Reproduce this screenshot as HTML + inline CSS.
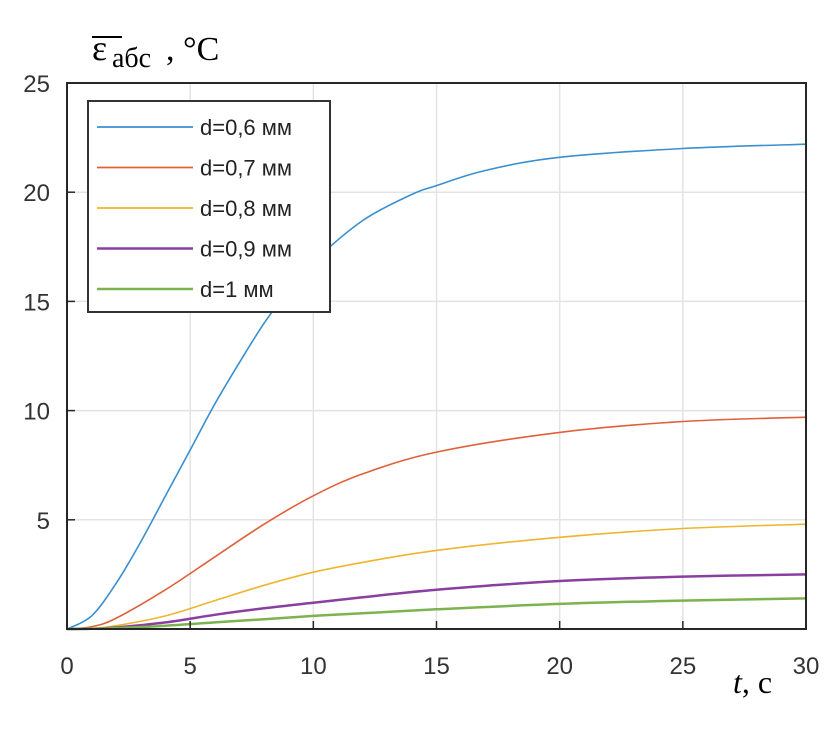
<!DOCTYPE html>
<html><head><meta charset="utf-8"><style>
html,body{margin:0;padding:0;background:#fff;width:830px;height:733px;overflow:hidden}
svg{display:block}
</style></head><body>
<svg id="chart" width="830" height="733" xmlns="http://www.w3.org/2000/svg">
<g id="grid"></g>
<g id="series"></g>
<rect x="67" y="83" width="739" height="546" fill="none" stroke="#262626" stroke-width="2"/>
<g id="ticks"></g>
<g>
<line x1="92" y1="37" x2="122" y2="37" stroke="#000" stroke-width="2"/>
<text x="92" y="60" font-family="Liberation Serif, serif" font-size="36">ε</text>
<text x="112" y="67" font-family="Liberation Serif, serif" font-size="28">абс</text>
<text x="166" y="60" font-family="Liberation Serif, serif" font-size="34">, °C</text>
</g>
<text x="733" y="693" font-family="Liberation Serif, serif" font-size="32"><tspan font-style="italic">t</tspan>, c</text>
<g id="legend">
<rect x="88" y="101" width="242" height="211" fill="#fff" stroke="#333" stroke-width="2"/>
</g>
</svg>
<script>
const xTicks=[0,5,10,15,20,25,30];
const yTicks=[5,10,15,20,25];
const yTickLabels=['5','10','15','20','25'];
const labels=['d=0,6 мм','d=0,7 мм','d=0,8 мм','d=0,9 мм','d=1 мм'];
const colors=['#3a8fd0','#e0603a','#eeb52e','#8a3fa0','#7cb350'];
const t1=[0,1,2,3,4,5,6,7,8,9,10,12,14,15,17,20,25,30];
const s06=[0,0.6,2.1,4,6.1,8.2,10.3,12.2,14,15.5,16.8,18.7,19.9,20.3,21.0,21.6,22.0,22.2];
const t2=[0,1,2,4,6,8,10,12,15,20,25,30];
const s07=[0,0.1,0.5,1.8,3.3,4.8,6.1,7.1,8.1,9.0,9.5,9.7];
const s08=[0,0.02,0.15,0.6,1.3,2.0,2.6,3.05,3.6,4.2,4.6,4.8];
const s09=[0,0.01,0.07,0.3,0.65,0.95,1.2,1.45,1.8,2.2,2.4,2.5];
const s10=[0,0.01,0.04,0.15,0.3,0.45,0.6,0.72,0.9,1.15,1.3,1.4];
const seriesX=[t1,t2,t2,t2,t2];
const seriesY=[s06,s07,s08,s09,s10];
const X=v=>67+v*(739/30), Y=v=>629-v*(546/25);
const NS='http://www.w3.org/2000/svg';
const mk=(tag,a,p)=>{const e=document.createElementNS(NS,tag);for(const k in a)e.setAttribute(k,a[k]);p.appendChild(e);return e;};
const grid=document.getElementById('grid'),ticks=document.getElementById('ticks');
const tickFont={'font-family':'Liberation Sans Narrow, Liberation Sans, sans-serif','font-size':24,fill:'#333'};
xTicks.forEach(v=>{
 if(v>0&&v<30){const g=mk('line',{x1:X(v),x2:X(v),y1:83,y2:629,stroke:'#e3e3e3','stroke-width':1.5},grid);
 
 }
 const tk=mk('line',{x1:X(v),x2:X(v),y1:629,y2:621,stroke:'#262626','stroke-width':1.5},ticks);
 
 
 const t=mk('text',Object.assign({x:X(v),y:674,'text-anchor':'middle'},tickFont),ticks);
 t.textContent=v;
 
 
});
yTicks.forEach((v,i)=>{
 if(v<25){const g=mk('line',{x1:67,x2:806,y1:Y(v),y2:Y(v),stroke:'#e3e3e3','stroke-width':1.5},grid);
 
 }
 const tk=mk('line',{x1:67,x2:75,y1:Y(v),y2:Y(v),stroke:'#262626','stroke-width':1.5},ticks);
 
 
 const t=mk('text',Object.assign({x:50,y:Y(v)+9,'text-anchor':'end'},tickFont),ticks);
 t.textContent=yTickLabels[i];
 
 
});
function smooth(xs,ys){
 const P=xs.map((x,j)=>[X(x),Y(ys[j])]);
 let d='M'+P[0][0].toFixed(1)+','+P[0][1].toFixed(1);
 for(let j=0;j<P.length-1;j++){
  const p0=P[j-1]||P[j],p1=P[j],p2=P[j+1],p3=P[j+2]||P[j+1];
  const c1=[p1[0]+(p2[0]-p0[0])/6,p1[1]+(p2[1]-p0[1])/6];
  const c2=[p2[0]-(p3[0]-p1[0])/6,p2[1]-(p3[1]-p1[1])/6];
  d+='C'+c1.map(n=>n.toFixed(1)).join(',')+' '+c2.map(n=>n.toFixed(1)).join(',')+' '+p2[0].toFixed(1)+','+p2[1].toFixed(1);
 }
 return d;
}
const sg=document.getElementById('series');
seriesY.forEach((ys,i)=>{
 const p=mk('path',{d:smooth(seriesX[i],ys),fill:'none',stroke:colors[i],'stroke-width':i>2?2.5:1.6},sg);
 
 
});
const lg=document.getElementById('legend');
labels.forEach((l,i)=>{
 const y=127+i*40.5;
 const ln=mk('line',{x1:97,x2:193,y1:y,y2:y,stroke:colors[i],'stroke-width':i>2?2.5:1.8},lg);
 
 
 const t=mk('text',{x:200,y:y+8,'font-family':'Liberation Sans, sans-serif','font-size':22,fill:'#222'},lg);
 t.textContent=l;
 
 
});
</script>
</body></html>
